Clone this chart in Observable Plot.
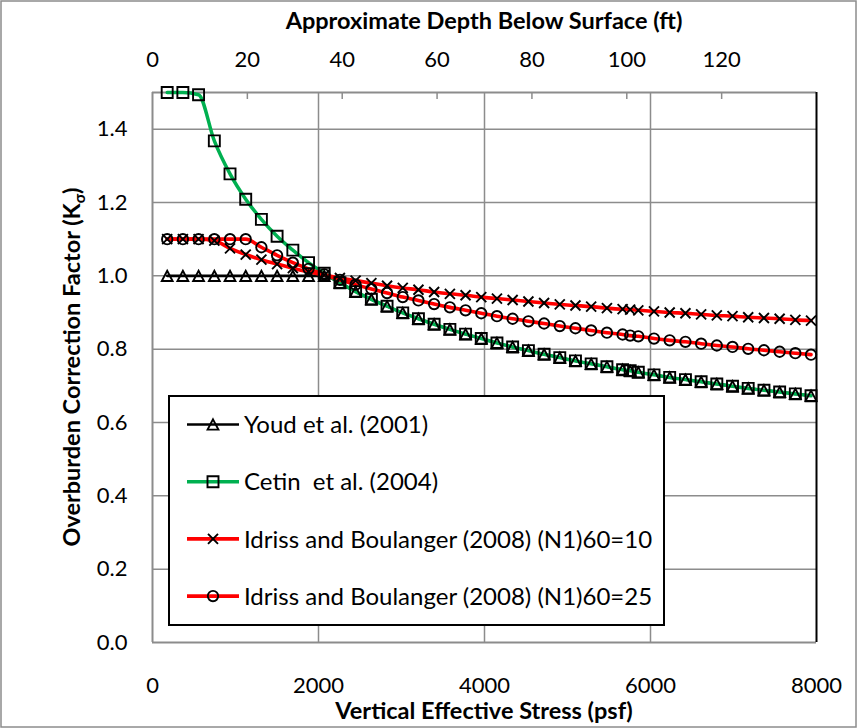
<!DOCTYPE html>
<html><head><meta charset="utf-8">
<script src="https://cdn.jsdelivr.net/npm/d3@7"></script>
<script src="https://cdn.jsdelivr.net/npm/@observablehq/plot@0.6"></script>
<style>
html,body{margin:0;padding:0;background:#fff;}
#chart{position:relative;width:857px;height:728px;}
svg text{white-space:pre;}
</style></head><body><div id="chart"></div>
<script>
// ---- data ----
const stress = [177,366,555,745,934,1123,1312,1501,1691,1880,2069,2258,2447,2637,2826,3015,3204,3393,3583,3772,3961,4150,4339,4529,4718,4907,5096,5285,5475,5664,5755,5853,6042,6231,6421,6610,6799,6988,7177,7367,7556,7745,7934];
const youd  = [1,1,1,1,1,1,1,1,1,1,1,0.981,0.957,0.936,0.917,0.899,0.883,0.868,0.854,0.841,0.829,0.817,0.806,0.796,0.786,0.777,0.768,0.760,0.752,0.744,0.741,0.737,0.730,0.723,0.717,0.711,0.705,0.699,0.693,0.688,0.683,0.678,0.673];
const cetin = [1.5,1.5,1.494,1.368,1.278,1.209,1.154,1.108,1.070,1.036,1.007,0.981,0.957,0.936,0.917,0.899,0.883,0.868,0.854,0.841,0.829,0.817,0.806,0.796,0.786,0.777,0.768,0.760,0.752,0.744,0.741,0.737,0.730,0.723,0.717,0.711,0.705,0.699,0.693,0.688,0.683,0.678,0.673];
const ib10  = [1.1,1.1,1.1,1.096,1.075,1.058,1.044,1.032,1.021,1.011,1.002,0.994,0.987,0.980,0.973,0.967,0.962,0.956,0.951,0.947,0.942,0.938,0.934,0.930,0.926,0.922,0.919,0.916,0.912,0.909,0.908,0.906,0.903,0.900,0.898,0.895,0.892,0.890,0.887,0.885,0.883,0.880,0.878];
const ib25  = [1.1,1.1,1.1,1.1,1.1,1.1,1.078,1.056,1.036,1.019,1.004,0.989,0.976,0.964,0.953,0.942,0.933,0.923,0.914,0.906,0.898,0.890,0.883,0.876,0.870,0.863,0.857,0.851,0.845,0.840,0.837,0.835,0.829,0.824,0.820,0.815,0.810,0.806,0.801,0.797,0.793,0.789,0.785];
const seriesNames = ["Youd et al. (2001)", "Cetin  et al. (2004)", "Idriss and Boulanger (2008) (N1)60=10", "Idriss and Boulanger (2008) (N1)60=25"];
const stressTicks = [0, 2000, 4000, 6000, 8000];
const kTicks = [0, 0.2, 0.4, 0.6, 0.8, 1.0, 1.2, 1.4];
const depthTicks = [0, 20, 40, 60, 80, 100, 120];
const stressMax = 8000, depthAtMax = 140, kMax = 1.5;
const xTitle = "Vertical Effective Stress (psf)";
const x2Title = "Approximate Depth Below Surface (ft)";
const yTitle = "Overburden Correction Factor (K";
const yTitleSub = "σ";

// ---- styling ----
const W = 857, H = 728;
const mL = 152, mR = 41, mT = 92, mB = 86;
const FONT = "Lato, 'Open Sans', sans-serif";
const FS = 22;
const FT = 23.5;
const FL = 24;
const gridC = "#8c8c8c";
const colors = ["#000000", "#00b050", "#ff0000", "#ff0000"];
const lineW = [2.6, 3.5, 3.6, 3.6];
const psfPerFt = stressMax / depthAtMax;

const symTri = {draw(c){ const w = 5.4, h = 5.1; c.moveTo(0, -h); c.lineTo(w, h); c.lineTo(-w, h); c.closePath(); }};
const symSq  = {draw(c){ const h = 5.5; c.moveTo(-h, -h); c.lineTo(h, -h); c.lineTo(h, h); c.lineTo(-h, h); c.closePath(); }};
const symX   = {draw(c){ const r = 5.0; c.moveTo(-r, -r); c.lineTo(r, r); c.moveTo(r, -r); c.lineTo(-r, r); }};
const symO   = {draw(c){ const r = 5.2; c.moveTo(r, 0); c.arc(0, 0, r, 0, 2 * Math.PI); c.closePath(); }};
const symbols = [symTri, symSq, symX, symO];

const seriesVals = [youd, cetin, ib10, ib25];
const tables = seriesVals.map((vals, s) => stress.map((x, i) => ({x, k: vals[i], s})));

const innerH = H - mT - mB;
const marks = [
  Plot.gridY(kTicks.filter(d => d > 0), {stroke: gridC, strokeOpacity: 1, strokeWidth: 1.5}),
  Plot.gridX(stressTicks.filter(d => d > 0 && d < stressMax), {stroke: gridC, strokeOpacity: 1, strokeWidth: 1.5}),
  Plot.ruleX(depthTicks.filter(d => d > 0).map(d => d * psfPerFt), {stroke: gridC, strokeWidth: 1.5, insetBottom: innerH - 7}),
  Plot.ruleX([0], {stroke: gridC, strokeWidth: 2}),
  Plot.ruleY([0], {stroke: gridC, strokeWidth: 2}),
  Plot.ruleY([kMax], {stroke: gridC, strokeWidth: 2}),
  Plot.ruleX([stressMax], {stroke: "#000", strokeWidth: 2}),
  Plot.axisX(stressTicks, {anchor: "bottom", tickSize: 0, tickPadding: 35, label: null, fontSize: FS, tickFormat: d => String(d)}),
  Plot.axisX(depthTicks.map(d => d * psfPerFt), {anchor: "top", tickSize: 0, tickPadding: 26, label: null, fontSize: FS,
    tickFormat: v => String(Math.round(v / psfPerFt))}),
  Plot.axisY(kTicks, {anchor: "left", tickSize: 0, tickPadding: 25, label: null, fontSize: FS, tickFormat: d3.format(".1f")}),
  ...tables.map((t, s) => Plot.line(t, {x: "x", y: "k", stroke: colors[s], strokeWidth: lineW[s], curve: "monotone-x"})),
  ...tables.map((t, s) => Plot.dot(t, {x: "x", y: "k", symbol: symbols[s], r: 5, fill: "none", stroke: "#000", strokeWidth: 1.9}))
];

const svgEl = Plot.plot({
  width: W, height: H,
  marginLeft: mL, marginRight: mR, marginTop: mT, marginBottom: mB,
  x: {domain: [0, stressMax]},
  y: {domain: [0, kMax]},
  style: {fontFamily: FONT, fontSize: FS + "px", color: "#000", background: "#fff", overflow: "visible"},
  marks
});
document.getElementById("chart").appendChild(svgEl);

const svg = d3.select(svgEl);
// outer chart border
svg.append("rect").attr("x", 1).attr("y", 1).attr("width", W - 2).attr("height", H - 2)
  .attr("fill", "none").attr("stroke", gridC).attr("stroke-width", 1.5);

const cx = (mL + (W - mR)) / 2;
svg.append("text").attr("x", cx).attr("y", 29).attr("text-anchor", "middle")
  .attr("font-family", FONT).attr("font-weight", 700).attr("font-size", FT).text(x2Title);
svg.append("text").attr("x", cx).attr("y", 719).attr("text-anchor", "middle")
  .attr("font-family", FONT).attr("font-weight", 700).attr("font-size", FT).text(xTitle);
const yt = svg.append("text").attr("transform", `translate(80,${(mT + H - mB) / 2}) rotate(-90)`)
  .attr("text-anchor", "middle").attr("font-family", FONT).attr("font-weight", 700).attr("font-size", FT);
yt.append("tspan").text(yTitle);
yt.append("tspan").attr("font-size", FT * 0.65).attr("dy", 5).text(yTitleSub);
yt.append("tspan").attr("dy", -5).text(")");

// legend
const lg = svg.append("g").attr("text-anchor", "start");
lg.append("rect").attr("x", 169).attr("y", 396).attr("width", 495).attr("height", 229)
  .attr("fill", "#fff").attr("stroke", "#000").attr("stroke-width", 2);
seriesNames.forEach((name, i) => {
  const y = 424.5 + i * 57.2;
  lg.append("line").attr("x1", 187).attr("x2", 239).attr("y1", y).attr("y2", y)
    .attr("stroke", colors[i]).attr("stroke-width", lineW[i]);
  const p = d3.path(); symbols[i].draw(p);
  lg.append("path").attr("d", p.toString()).attr("transform", `translate(213,${y})`)
    .attr("fill", "none").attr("stroke", "#000").attr("stroke-width", 1.9);
  lg.append("text").attr("x", 244).attr("y", y).attr("dy", "0.36em").attr("text-anchor", "start")
    .attr("font-family", FONT).attr("font-size", FL).attr("fill", "#000").text(name);
});
</script></body></html>
